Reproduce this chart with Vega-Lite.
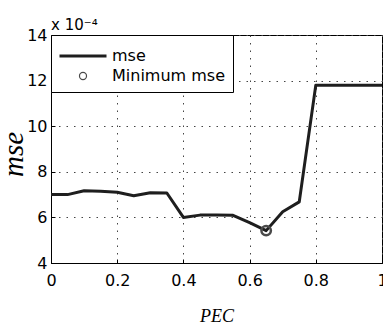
{
  "$schema": "https://vega.github.io/schema/vega-lite/v6.json",
  "autosize": {"type": "none"},
  "padding": {"left": 51, "top": 35, "right": 1, "bottom": 61},
  "width": 331,
  "height": 228,
  "background": "white",
  "title": {
    "text": "x 10⁻⁴",
    "anchor": "start",
    "frame": "group",
    "orient": "top",
    "offset": -18,
    "baseline": "alphabetic",
    "font": "DejaVu Sans",
    "fontSize": 15,
    "fontWeight": "normal",
    "color": "black"
  },
  "config": {
    "view": {"stroke": "black", "strokeWidth": 1},
    "axis": {
      "labelFont": "DejaVu Sans",
      "labelFontSize": 16,
      "labelColor": "black",
      "domainColor": "black",
      "tickColor": "black",
      "tickSize": -4,
      "grid": true,
      "gridColor": "#444",
      "gridDash": [1.5, 6],
      "gridOpacity": 1,
      "titleFont": "Liberation Serif",
      "titleFontStyle": "italic",
      "titleFontWeight": "normal",
      "titleColor": "black"
    }
  },
  "data": {
    "values": [
      {"pec": 0.0, "mse": 0.000700},
      {"pec": 0.05, "mse": 0.000700},
      {"pec": 0.1, "mse": 0.000717},
      {"pec": 0.15, "mse": 0.000715},
      {"pec": 0.2, "mse": 0.000710},
      {"pec": 0.25, "mse": 0.000695},
      {"pec": 0.3, "mse": 0.000708},
      {"pec": 0.35, "mse": 0.000707},
      {"pec": 0.4, "mse": 0.000600},
      {"pec": 0.45, "mse": 0.000610},
      {"pec": 0.5, "mse": 0.000610},
      {"pec": 0.55, "mse": 0.000609},
      {"pec": 0.6, "mse": 0.000577},
      {"pec": 0.65, "mse": 0.000542},
      {"pec": 0.7, "mse": 0.000625},
      {"pec": 0.75, "mse": 0.000668},
      {"pec": 0.8, "mse": 0.001180},
      {"pec": 0.85, "mse": 0.001180},
      {"pec": 0.9, "mse": 0.001180},
      {"pec": 0.95, "mse": 0.001180},
      {"pec": 1.0, "mse": 0.001180}
    ]
  },
  "encoding": {
    "x": {
      "field": "pec",
      "type": "quantitative",
      "scale": {"domain": [0, 1], "nice": false, "zero": false},
      "axis": {
        "title": "PEC",
        "titleFontSize": 18,
        "titlePadding": 19,
        "values": [0, 0.2, 0.4, 0.6, 0.8, 1],
        "format": "~g",
        "labelPadding": 13,
        "labelFlush": false
      }
    },
    "y": {
      "field": "mse",
      "type": "quantitative",
      "scale": {"domain": [0.0004, 0.0014], "nice": false, "zero": false},
      "axis": {
        "title": "mse",
        "titleFontSize": 29,
        "titlePadding": -2,
        "titleY": 119,
        "values": [0.0004, 0.0006, 0.0008, 0.001, 0.0012, 0.0014],
        "labelExpr": "format(datum.value * 10000, 'd')",
        "labelPadding": 8,
        "labelFlush": false
      }
    }
  },
  "layer": [
    {
      "mark": {"type": "line", "strokeWidth": 3, "strokeJoin": "round"},
      "encoding": {
        "color": {
          "datum": "mse",
          "type": "nominal",
          "scale": {"domain": ["mse", "Minimum mse"], "range": ["#1e1e1e", "#4a4a4a"]},
          "legend": {
            "title": " ",
            "titleFontSize": 1,
            "titlePadding": 4,
            "orient": "top-left",
            "offset": 0,
            "padding": 8,
            "rowPadding": 4,
            "strokeColor": "black",
            "fillColor": "white",
            "cornerRadius": 0,
            "labelFont": "DejaVu Sans",
            "labelFontSize": 16,
            "labelColor": "black",
            "labelOffset": 21,
            "symbolSize": 400,
            "symbolOffset": 16,
            "encode": {
              "symbols": {
                "update": {
                  "shape": {"signal": "datum.value === 'mse' ? 'M-2.35,0H2.35' : 'circle'"},
                  "size": {"signal": "datum.value === 'mse' ? 400 : 50"},
                  "strokeWidth": {"signal": "datum.value === 'mse' ? 3 : 1.2"},
                  "fill": {"value": "transparent"},
                  "fillOpacity": {"value": 0},
                  "stroke": {"signal": "datum.value === 'mse' ? '#1e1e1e' : '#333333'"},
                  "opacity": {"value": 1}
                }
              }
            }
          }
        }
      }
    },
    {
      "transform": [
        {"joinaggregate": [{"op": "min", "field": "mse", "as": "minmse"}]},
        {"filter": "datum.mse === datum.minmse"}
      ],
      "mark": {"type": "point", "filled": false, "strokeWidth": 2.5, "size": 90, "opacity": 1},
      "encoding": {
        "color": {"datum": "Minimum mse", "type": "nominal"}
      }
    }
  ]
}
